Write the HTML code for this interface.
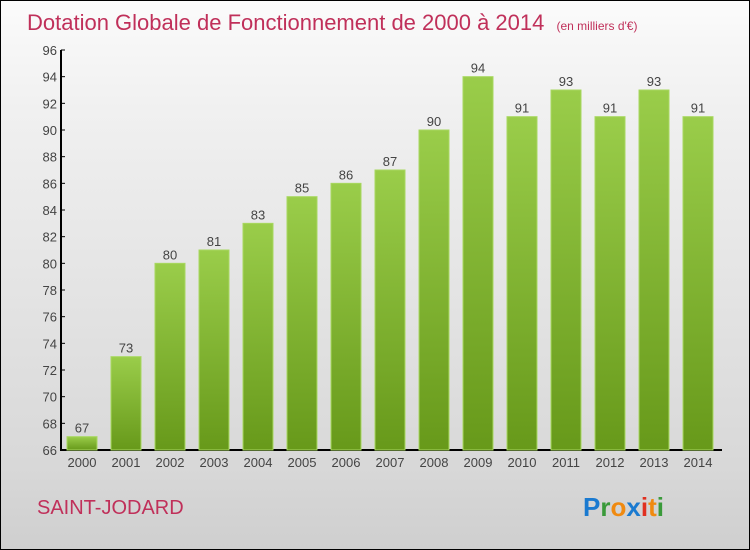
<!DOCTYPE html>
<html><head><meta charset="utf-8"><style>
body{margin:0;}
#c{position:relative;width:748px;height:548px;border:1px solid #000;background:linear-gradient(#fbfbfb,#f0f0f0 20%,#d8d8d8 85%,#cfcfcf);font-family:"Liberation Sans",sans-serif;overflow:hidden}
</style></head><body>
<div id="c">
<svg width="748" height="548">
<defs><linearGradient id="g" x1="0" y1="0" x2="0" y2="1"><stop offset="0" stop-color="#9acd4a"/><stop offset="1" stop-color="#67991a"/></linearGradient></defs>
<text x="26" y="29" font-size="22" fill="#c0305a">Dotation Globale de Fonctionnement de 2000 à 2014 <tspan font-size="12" dx="6">(en milliers d'€)</tspan></text>
<g id="plot"></g>
<text x="36" y="513" font-size="20" fill="#c0305a">SAINT-JODARD</text>
<text x="582" y="515" font-size="26" font-weight="bold"><tspan fill="#1a7ad0">P</tspan><tspan fill="#3a9a3a">r</tspan><tspan fill="#f08a10">o</tspan><tspan fill="#1a7ad0">x</tspan><tspan fill="#e03020">i</tspan><tspan fill="#f08a10">t</tspan><tspan fill="#3a9a3a">i</tspan></text>
</svg></div>
<script>
const years=["2000","2001","2002","2003","2004","2005","2006","2007","2008","2009","2010","2011","2012","2013","2014"];
const values=[67,73,80,81,83,85,86,87,90,94,91,93,91,93,91];
const yTicks=[66,68,70,72,74,76,78,80,82,84,86,88,90,92,94,96];
const NS="http://www.w3.org/2000/svg";
const g=document.getElementById('plot');
const y=v=>449-(v-66)*400/30;
const x=i=>81+i*44;
function mk(t,a){const e=document.createElementNS(NS,t);for(const k in a)e.setAttribute(k,a[k]);g.appendChild(e);return e;}
let ax=mk('line',{x1:60,y1:49,x2:60,y2:449,stroke:'#000','stroke-width':2});


let bx=mk('line',{x1:59,y1:449,x2:721,y2:449,stroke:'#000','stroke-width':2});


yTicks.forEach(v=>{
 const l=mk('line',{x1:60,x2:64,y1:y(v),y2:y(v),stroke:'#000'});
 
 
 const t=mk('text',{x:56,y:y(v)+5,'text-anchor':'end','font-size':13,fill:'#444'});
 t.textContent=v;
 
 
});
values.forEach((v,i)=>{
 const r=mk('rect',{x:x(i)-15,y:y(v),width:30,height:449-y(v),fill:'url(#g)',stroke:'#a8d860','stroke-width':1});
 
 
 const t=mk('text',{x:x(i),y:y(v)-4,'text-anchor':'middle','font-size':13,fill:'#444'});
 t.textContent=v;
 
 
 const xl=mk('text',{x:x(i),y:466,'text-anchor':'middle','font-size':13,fill:'#444'});
 xl.textContent=years[i];
 
 
});
</script>
</body></html>
